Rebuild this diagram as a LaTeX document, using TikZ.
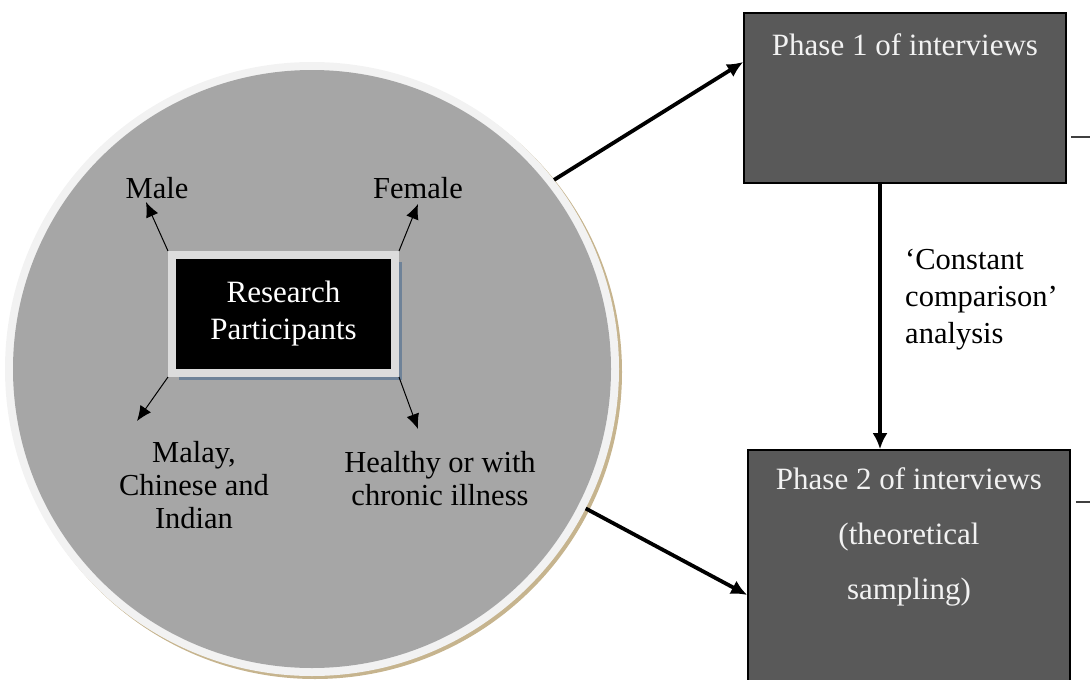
\documentclass[tikz,border=0pt]{standalone}
\usepackage{fontspec}
\setmainfont{Liberation Serif}
\usetikzlibrary{arrows.meta,shadows,calc}

\definecolor{ringgray}{HTML}{F2F2F2}
\definecolor{discgray}{HTML}{A6A6A6}
\definecolor{tanshade}{HTML}{C6B48E}
\definecolor{framegray}{HTML}{DCDCDC}
\definecolor{shadeblue}{HTML}{6E8298}
\definecolor{phasegray}{HTML}{595959}
\definecolor{phasetext}{HTML}{F2F2F2}

\begin{document}
\begin{tikzpicture}[x=1pt,y=-1pt,
  txt/.style={font=\fontsize{30.5}{33}\selectfont, align=center, inner sep=0pt},
  phasebox/.style={draw=black, line width=1.6pt, fill=phasegray, rectangle, inner sep=0pt},
  phasetxt/.style={txt, text=phasetext, font=\fontsize{31}{55}\selectfont},
  smallarrow/.style={-{Latex[length=15pt,width=13pt]}, line width=1pt},
  bigarrow/.style={-{Latex[length=16pt,width=15pt]}, line width=3.8pt},
  edgestub/.style={line width=1.1pt, draw=black!75}]

\useasboundingbox (0,0) rectangle (1090,680);
\clip (0,0) rectangle (1090,680);

% participant disc with light rim and tan drop shadow
\node (disc) [circle, minimum size=614pt, fill=ringgray, inner sep=0pt,
  drop shadow={shadow xshift=3pt, shadow yshift=-3pt, fill=tanshade, opacity=1}]
  at (312,369) {};
\node (core) [circle, minimum size=598pt, fill=discgray, inner sep=0pt] at (312,369) {};

% central box: grey frame, blue-grey shadow below and right
\node (rp) [rectangle, fill=black, draw=framegray, line width=8pt,
  minimum width=223pt, minimum height=118pt, inner sep=0pt,
  text=white, font=\fontsize{31}{37}\selectfont, align=center,
  drop shadow={shadow xshift=7pt, shadow yshift=-7pt, fill=shadeblue, opacity=1}]
  at (283.5,314) {\raisebox{4pt}{\parbox{200pt}{\centering Research\\Participants}}};

% participant attributes
\node (male) [txt] at (157,188) {Male};
\node (female) [txt] at (418,188) {Female};
\node (ethnic) [txt] at (194,485) {Malay,\\Chinese and\\Indian};
\node (health) [txt] at (440,479) {Healthy or with\\chronic illness};

\coordinate (maletip) at (146,202);
\coordinate (femaletip) at (418,204);
\coordinate (ethnictip) at (137,421);
\coordinate (healthtip) at (418,429);

\draw[smallarrow] (rp.north west) -- (maletip);
\draw[smallarrow] (rp.north east) -- (femaletip);
\draw[smallarrow] (rp.south west) -- (ethnictip);
\draw[smallarrow] (rp.south east) -- (healthtip);

% interview phases
\node (ph1) [phasebox, minimum width=322pt, minimum height=170pt] at (905,98) {};
\node (ph1txt) [phasetxt] at (905,45) {Phase 1 of interviews};

\node (ph2) [phasebox, minimum width=322pt, minimum height=270pt] at (909,585) {};
\node (ph2txt) [phasetxt] at (909,537) {Phase 2 of interviews\\(theoretical\\sampling)};

\node (cc) [txt, align=left, anchor=west, font=\fontsize{30.5}{37}\selectfont]
  at (905,300) {‘Constant\\comparison’\\analysis};

% flow connectors
\coordinate (ph1in) at (0,62);
\coordinate (ph2in) at (0,595);
\coordinate (flowx) at (880,0);
\draw[bigarrow] (disc.38) -- (ph1.west |- ph1in);
\draw[bigarrow] (disc.-27) -- (ph2.west |- ph2in);
\draw[bigarrow] (ph1.south -| flowx) -- (ph2.north -| flowx);

% stubs leaving the phase boxes on the right
\coordinate (stub1) at (1090,137);
\coordinate (stub2) at (1090,502);
\draw[edgestub] ($(ph1.east |- stub1)+(4,0)$) -- (stub1);
\draw[edgestub] ($(ph2.east |- stub2)+(5,0)$) -- (stub2);
\end{tikzpicture}
\end{document}
